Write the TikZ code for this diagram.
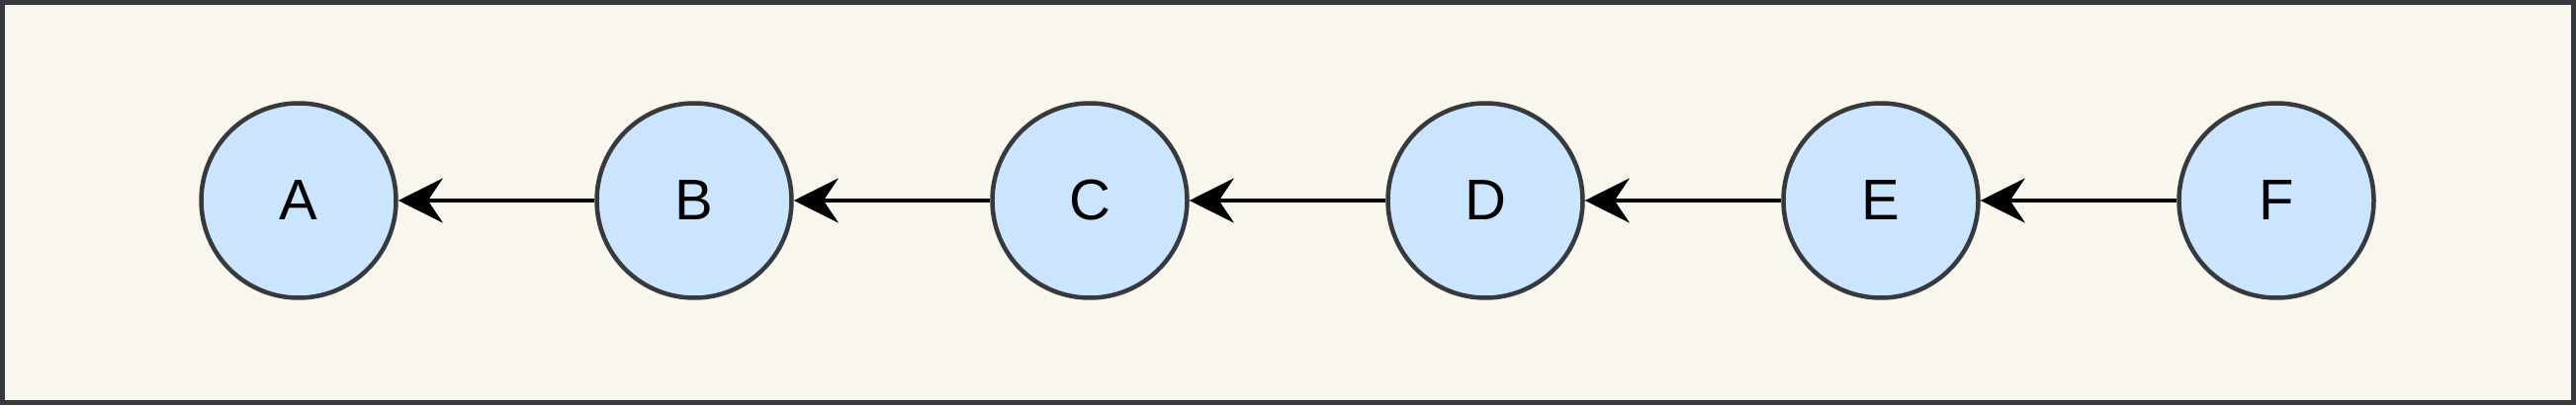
\documentclass[tikz,border=0pt]{standalone}
\usepackage{fontspec}
\setmainfont{Liberation Sans}
\usetikzlibrary{arrows.meta}

\definecolor{paper}{HTML}{F9F7ED}
\definecolor{rim}{HTML}{36393D}
\definecolor{nodeblue}{HTML}{CCE5FF}

\tikzset{
    vertex/.style={circle, draw=rim, fill=nodeblue, line width=4.5pt,
        minimum size=197pt, inner sep=0pt, font=\fontsize{58}{60}\selectfont},
    link/.style={line width=4pt, -{Stealth[length=45pt, width=45pt, inset=15pt]}}
}

\begin{document}
\begin{tikzpicture}[x=1pt, y=1pt]
            \fill[paper] (0,0) rectangle (2605,410);
            \draw[rim, line width=5pt] (2.5,2.5) rectangle (2602.5,407.5);
            \useasboundingbox (0,0) rectangle (2605,410);

            \foreach \name [count=\i from 0] in {A,B,C,D,E,F}
                {\node[vertex] (\name) at (302+400*\i,207) {\name};}

            \foreach \from/\to in {B/A,C/B,D/C,E/D,F/E}
                {\draw[link] (\from) -- (\to);}
        \end{tikzpicture}
\end{document}
